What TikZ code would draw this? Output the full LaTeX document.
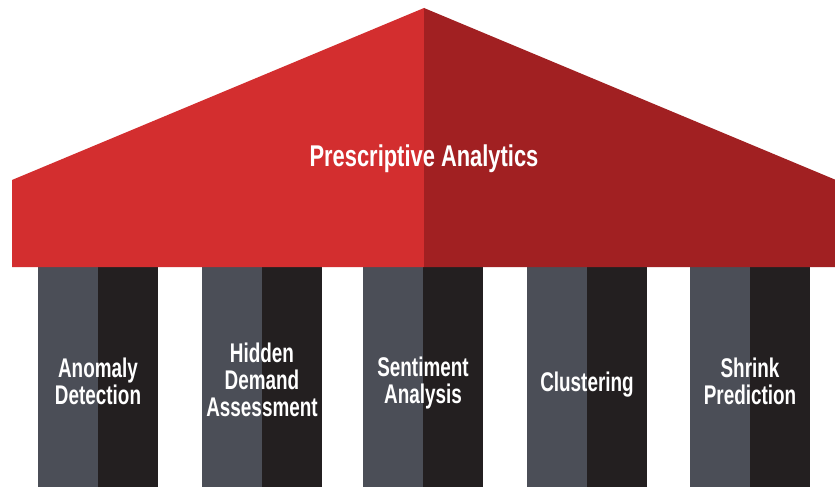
\documentclass[tikz,border=0pt]{standalone}
\usepackage{fontspec}
\newfontfamily\condfont[FakeStretch=0.70]{Liberation Sans}
\newfontfamily\titlefont[FakeStretch=0.73]{Liberation Sans}
\definecolor{roofL}{HTML}{D32E2F}
\definecolor{roofR}{HTML}{A12022}
\definecolor{colL}{HTML}{4B4E57}
\definecolor{colR}{HTML}{231F20}
\tikzset{
  pillarlabel/.style={text=white, align=center, anchor=base, inner sep=0pt,
    font=\condfont\bfseries\fontsize{27}{27}\selectfont},
  rooflabel/.style={text=white, anchor=base, inner sep=0pt,
    font=\titlefont\bfseries\fontsize{30}{30}\selectfont}
}
\begin{document}
\begin{tikzpicture}[x=1pt,y=-1pt]
\useasboundingbox (0,0) rectangle (835,487);
\fill[white] (0,0) rectangle (835,487);
% pillars
\foreach \xl in {38,202,363,527,690}{
  \fill[colL] (\xl,260) rectangle ({\xl+60},487);
  \fill[colR] ({\xl+60},260) rectangle ({\xl+120},487);
}
% roof
\fill[roofL] (12,267) -- (12,180) -- (424,8) -- (424,267) -- cycle;
\fill[roofR] (424,8) -- (835,179.6) -- (835,267) -- (424,267) -- cycle;
% labels
\node[rooflabel] (title) at (424,166) {Prescriptive Analytics};
\node[pillarlabel] (p1) at (98,404) {Anomaly\\Detection};
\node[pillarlabel] (p2) at (262,416) {Hidden\\Demand\\Assessment};
\node[pillarlabel] (p3) at (423,403) {Sentiment\\Analysis};
\node[pillarlabel] (p4) at (587,391) {Clustering};
\node[pillarlabel] (p5) at (750,404) {Shrink\\Prediction};
\end{tikzpicture}
\end{document}
